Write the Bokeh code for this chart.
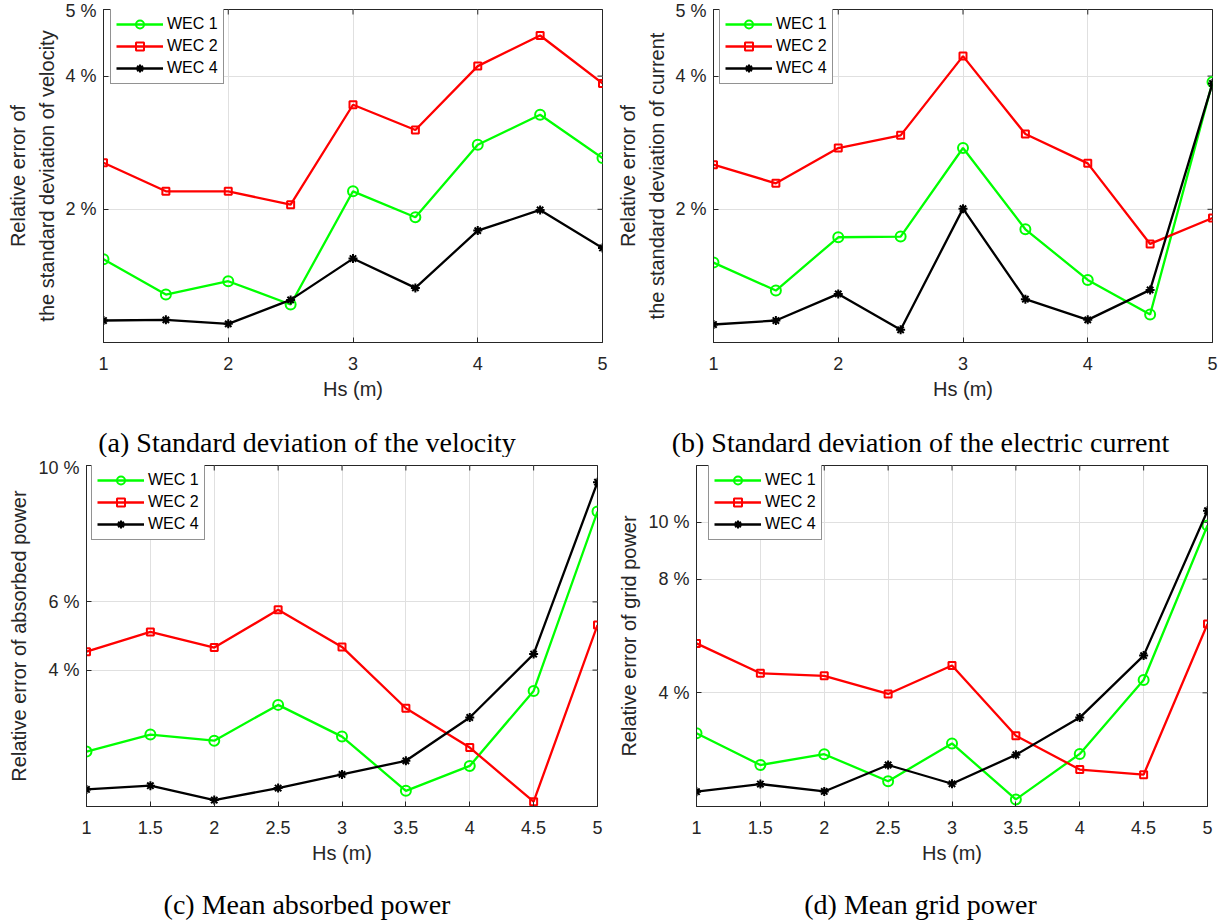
import math
from bokeh.plotting import figure
from bokeh.models import FixedTicker, PrintfTickFormatter, Range1d
from bokeh.layouts import column, row
from bokeh.embed import file_html
from bokeh.resources import INLINE

hs = [1, 1.5, 2, 2.5, 3, 3.5, 4, 4.5, 5]
series_names = ["WEC 1", "WEC 2", "WEC 4"]

vel_wec1 = [1.25, 0.72, 0.92, 0.57, 2.27, 1.88, 2.97, 3.42, 2.77]
vel_wec2 = [2.70, 2.27, 2.27, 2.07, 3.57, 3.19, 4.15, 4.61, 3.89]
vel_wec4 = [0.33, 0.34, 0.28, 0.64, 1.26, 0.82, 1.68, 1.99, 1.42]

cur_wec1 = [1.20, 0.78, 1.58, 1.59, 2.92, 1.70, 0.94, 0.42, 3.91]
cur_wec2 = [2.67, 2.39, 2.92, 3.11, 4.30, 3.13, 2.69, 1.48, 1.87]
cur_wec4 = [0.27, 0.33, 0.73, 0.19, 2.01, 0.65, 0.34, 0.79, 3.89]

abs_wec1 = [1.61, 2.11, 1.93, 2.98, 2.05, 0.46, 1.19, 3.39, 8.65]
abs_wec2 = [4.54, 5.12, 4.66, 5.77, 4.68, 2.88, 1.73, 0.14, 5.32]
abs_wec4 = [0.50, 0.61, 0.19, 0.54, 0.94, 1.34, 2.61, 4.47, 9.51]

grid_wec1 = [2.58, 1.46, 1.84, 0.89, 2.22, 0.25, 1.85, 4.45, 9.89]
grid_wec2 = [5.74, 4.69, 4.60, 3.96, 4.96, 2.49, 1.30, 1.12, 6.42]
grid_wec4 = [0.52, 0.79, 0.53, 1.46, 0.80, 1.82, 3.13, 5.31, 10.41]

xticks_top = [1, 2, 3, 4, 5]
xticks_bottom = [1, 1.5, 2, 2.5, 3, 3.5, 4, 4.5, 5]
yticks_vel = [2, 4, 5]
yticks_cur = [2, 4, 5]
yticks_abs = [4, 6, 10]
yticks_grid = [4, 8, 10]

captions = ["(a) Standard deviation of the velocity",
            "(b) Standard deviation of the electric current",
            "(c) Mean absorbed power",
            "(d) Mean grid power"]

AX = "#262626"
SANS = "Liberation Sans"
SERIF = "Liberation Serif"
XMIN, XMAX = 1, 5


def panel(ys, ymax, yticks, xticks, ylabel, left, right, top, bottom,
          fw, fh, leg_x, ylab_standoff):
    p = figure(output_backend="svg", toolbar_location=None,
               frame_width=fw, frame_height=fh,
               min_border_left=left, min_border_right=right,
               min_border_top=top, min_border_bottom=bottom,
               x_range=Range1d(XMIN, XMAX), y_range=Range1d(0, ymax))
    p.outline_line_color = AX
    p.outline_line_width = 1
    xt = FixedTicker(ticks=xticks)
    yt = FixedTicker(ticks=yticks)
    p.xaxis.ticker = xt
    p.yaxis.ticker = yt
    p.yaxis.formatter = PrintfTickFormatter(format="%d %%")
    p.xgrid.ticker = xt
    p.ygrid.ticker = yt
    for g in (p.xgrid, p.ygrid):
        g.grid_line_color = "#e0e0e0"
        g.grid_line_width = 1
    for ax in (p.xaxis, p.yaxis):
        ax.axis_line_color = AX
        ax.major_tick_line_color = AX
        ax.major_tick_in = 5
        ax.major_tick_out = 0
        ax.minor_tick_line_color = None
        ax.major_label_text_font = SANS
        ax.major_label_text_font_size = "18px"
        ax.major_label_text_color = AX
        ax.axis_label_text_font = SANS
        ax.axis_label_text_font_size = "20px"
        ax.axis_label_text_font_style = "normal"
        ax.axis_label_text_color = AX
    p.xaxis.axis_label = "Hs (m)"
    p.xaxis.major_label_standoff = 14
    p.xaxis.axis_label_standoff = 5
    p.yaxis.axis_label = ylabel
    p.yaxis.axis_label_text_line_height = 1.35
    p.yaxis.major_label_standoff = 7
    p.yaxis.axis_label_standoff = ylab_standoff

    # inward ticks on the top and right edges of the box
    p.scatter(xticks, [ymax] * len(xticks), marker="dash", angle=math.pi / 2,
              size=10, line_color=AX, line_width=1)
    p.scatter([XMAX] * len(yticks), yticks, marker="dash",
              size=10, line_color=AX, line_width=1)

    colors = ["#00ff00", "#ff0000", "#000000"]
    markers = ["circle", "square", "asterisk"]
    sizes = [10, 7, 9]
    for y, c, m, s, name in zip(ys, colors, markers, sizes, series_names):
        p.line(hs, y, line_color=c, line_width=2.3, legend_label=name)
        p.scatter(hs, y, marker=m, size=s, line_color=c, fill_color=None,
                  line_width=2, legend_label=name)

    leg = p.legend[0]
    leg.location = (leg_x, fh - 74 - 1)
    leg.border_line_color = AX
    leg.border_line_width = 1
    leg.background_fill_color = "white"
    leg.background_fill_alpha = 1
    leg.label_text_font = SANS
    leg.label_text_font_size = "16px"
    leg.label_text_color = "#000000"
    leg.glyph_width = 47
    leg.glyph_height = 20
    leg.label_height = 20
    leg.label_width = 50
    leg.label_standoff = 4
    leg.spacing = 2
    leg.padding = 5
    leg.margin = 0
    return p


def caption_fig(text, w, h, dy):
    c = figure(output_backend="svg", toolbar_location=None, width=w, height=h,
               min_border=0, x_range=Range1d(-1, 1), y_range=Range1d(-1, 1),
               x_axis_type=None, y_axis_type=None)
    c.outline_line_color = None
    c.xgrid.visible = False
    c.ygrid.visible = False
    c.text(x=[0], y=[0], text=[text], text_align="center",
           text_baseline="middle", y_offset=dy,
           text_font={"value": SERIF}, text_font_size="28px",
           text_color="#000000")
    return c


pa = panel([vel_wec1, vel_wec2, vel_wec4], 5, yticks_vel, xticks_top,
           "Relative error of\nthe standard deviation of velocity",
           103, 11, 9, 68, 499, 333, 7, 4)
pb = panel([cur_wec1, cur_wec2, cur_wec4], 5, yticks_cur, xticks_top,
           "Relative error of\nthe standard deviation of current",
           100, 15, 9, 68, 499, 333, 6, 4)
pc = panel([abs_wec1, abs_wec2, abs_wec4], 10, yticks_abs, xticks_bottom,
           "Relative error of absorbed power",
           86, 16, 8, 64, 511, 341, 5, 5)
pd = panel([grid_wec1, grid_wec2, grid_wec4], 12, yticks_grid, xticks_bottom,
           "Relative error of grid power",
           83, 20, 8, 64, 511, 341, 12, 5)

ca = caption_fig(captions[0], 613, 47, 8)
cb = caption_fig(captions[1], 614, 47, 8)
cc = caption_fig(captions[2], 613, 51, 8)
cd = caption_fig(captions[3], 614, 51, 8)

layout = column(row(pa, pb), row(ca, cb), row(pc, pd), row(cc, cd))
open("out.html", "w").write(file_html(layout, INLINE))
